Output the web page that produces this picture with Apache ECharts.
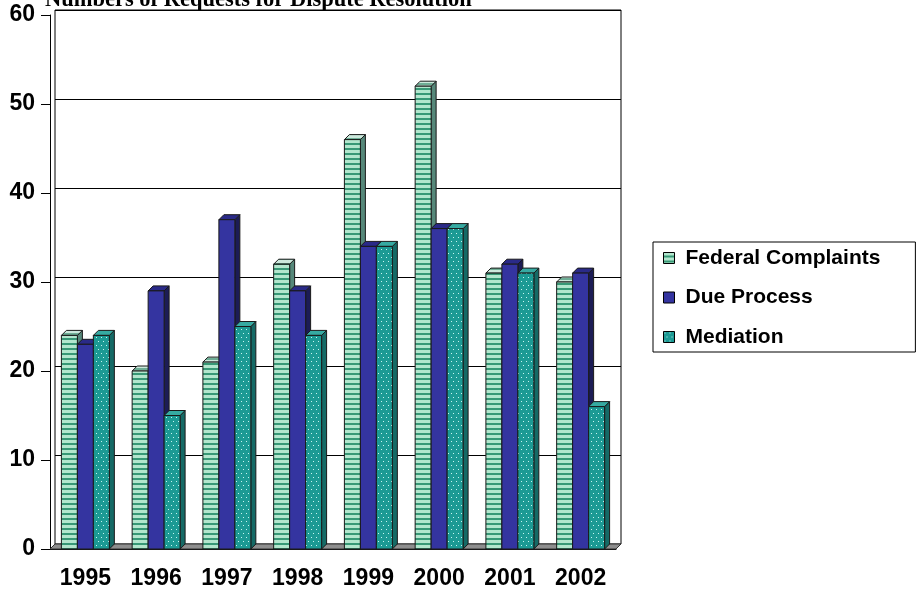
<!DOCTYPE html>
<html>
<head>
<meta charset="utf-8">
<script src="https://cdn.jsdelivr.net/npm/echarts@6/dist/echarts.min.js"></script>
<style>
  html, body { margin: 0; padding: 0; background: #fff; }
  #chart { width: 917px; height: 590px; }
</style>
</head>
<body>
<div id="chart"></div>
<script>
// Yearly counts of requests, by type
const years = ['1995', '1996', '1997', '1998', '1999', '2000', '2001', '2002'];
const federalComplaints = [24, 20, 21, 32, 46, 52, 31, 30];
const dueProcess = [23, 29, 37, 29, 34, 36, 32, 31];
const mediation = [24, 15, 25, 24, 34, 36, 31, 16];
const seriesNames = ['Federal Complaints', 'Due Process', 'Mediation'];
const yMin = 0, yMax = 60, yStep = 10;

const DEPTH = 5;          // 3D offset of the bars and back wall, px
const EDGE = '#1a1a1a';

// Small repeating fills for the bar faces
function stripes(light, dark) {
  const c = document.createElement('canvas');
  c.width = 4; c.height = 5;
  const g = c.getContext('2d');
  g.fillStyle = light; g.fillRect(0, 0, 4, 3);
  g.fillStyle = dark; g.fillRect(0, 3, 4, 2);
  return { image: c, repeat: 'repeat' };
}
function dots(base, dot) {
  const c = document.createElement('canvas');
  c.width = 5; c.height = 8;
  const g = c.getContext('2d');
  g.fillStyle = base; g.fillRect(0, 0, 5, 8);
  g.fillStyle = dot;
  g.fillRect(1, 1, 1, 1);
  g.fillRect(3, 5, 1, 1);
  return { image: c, repeat: 'repeat' };
}

const faces = [
  { front: stripes('#b2e6cd', '#389876'), top: stripes('#cce8dc', '#6fae96'), side: '#56887a' },
  { front: '#3434a0', top: '#2a2a88', side: '#1c1c55' },
  { front: dots('#1c9a94', '#c8f4f0'), top: '#36aaa2', side: '#156a66' }
];

function barRenderer(slot) {
  const f = faces[slot];
  return function (params, api) {
    const cat = api.value(0);
    const base = api.coord([cat, 0]);
    const top = api.coord([cat, api.value(1)]);
    const band = api.size([1, 0])[0];
    const bw = band * 0.226;
    const x = base[0] - 1.5 * bw + slot * bw;
    const yb = base[1], yt = top[1], d = DEPTH;
    return {
      type: 'group',
      children: [
        { type: 'polygon',
          shape: { points: [[x + bw, yt], [x + bw + d, yt - d], [x + bw + d, yb - d], [x + bw, yb]] },
          style: { fill: f.side, stroke: EDGE, lineWidth: 1 } },
        { type: 'polygon',
          shape: { points: [[x, yt], [x + d, yt - d], [x + bw + d, yt - d], [x + bw, yt]] },
          style: { fill: f.top, stroke: EDGE, lineWidth: 1 } },
        { type: 'rect',
          shape: { x: x, y: yt, width: bw, height: yb - yt },
          style: { fill: f.front, stroke: EDGE, lineWidth: 1 } }
      ]
    };
  };
}

// Floor slab under the bars
function floorRenderer(params, api) {
  const cs = params.coordSys;
  const yb = cs.y + cs.height, d = DEPTH;
  return {
    type: 'polygon',
    shape: { points: [[cs.x, yb], [cs.x + cs.width, yb], [cs.x + cs.width + d, yb - d], [cs.x + d, yb - d]] },
    style: { fill: '#8e8e8e', stroke: '#333', lineWidth: 1 }
  };
}

const toPairs = arr => arr.map((v, i) => [i, v]);
const seriesData = [federalComplaints, dueProcess, mediation];

const axisFont = { fontFamily: 'Arial, "Liberation Sans", sans-serif', fontWeight: 'bold', fontSize: 23, color: '#000' };

const chart = echarts.init(document.getElementById('chart'), null, { renderer: 'canvas' });
chart.setOption({
  animation: false,
  backgroundColor: '#fff',
  title: {
    text: 'Numbers of Requests for Dispute Resolution',
    left: 45, top: -11, padding: 0,
    textStyle: { fontFamily: '"Times New Roman", "Liberation Serif", serif', fontWeight: 'bold', fontSize: 22.5, lineHeight: 22, color: '#000' }
  },
  legend: {
    data: seriesNames,
    orient: 'vertical',
    left: 653, top: 242,
    padding: [5, 35, 4, 10],
    itemGap: 17.5,
    itemWidth: 11, itemHeight: 11,
    icon: 'rect',
    borderColor: '#000', borderWidth: 1,
    itemStyle: { borderColor: '#000', borderWidth: 1 },
    textStyle: { fontFamily: 'Arial, "Liberation Sans", sans-serif', fontWeight: 'bold', fontSize: 21, lineHeight: 22, color: '#000', padding: [0, 0, 0, 6] }
  },
  grid: [
    { left: 50, right: 301, top: 15, bottom: 41 },
    { left: 50 + DEPTH, right: 301 - DEPTH, top: 15 - DEPTH, bottom: 41 + DEPTH,
      show: true, borderColor: '#000', borderWidth: 1, backgroundColor: 'transparent' }
  ],
  xAxis: [
    { type: 'category', gridIndex: 0, data: years,
      axisLine: { lineStyle: { color: '#000', width: 1 } },
      axisTick: { length: 7, lineStyle: { color: '#000' } },
      axisLabel: Object.assign({ margin: 18 }, axisFont) },
    { type: 'category', gridIndex: 1, data: years, show: false }
  ],
  yAxis: [
    { type: 'value', gridIndex: 0, min: yMin, max: yMax, interval: yStep,
      axisLine: { show: true, lineStyle: { color: '#000', width: 1 } },
      axisTick: { show: true, length: 9, lineStyle: { color: '#000' } },
      axisLabel: Object.assign({ margin: 15 }, axisFont),
      splitLine: { show: false } },
    { type: 'value', gridIndex: 1, min: yMin, max: yMax, interval: yStep,
      axisLine: { show: false }, axisTick: { show: false }, axisLabel: { show: false },
      splitLine: { show: true, lineStyle: { color: '#000', width: 1 } } }
  ],
  series: [
    { type: 'custom', name: 'floor', xAxisIndex: 0, yAxisIndex: 0, silent: true,
      data: [[0, 0]], renderItem: floorRenderer, z: 1 }
  ].concat(seriesNames.map((name, k) => ({
    type: 'custom', name: name, xAxisIndex: 0, yAxisIndex: 0,
    data: toPairs(seriesData[k]),
    renderItem: barRenderer(k),
    itemStyle: { color: faces[k].front, borderColor: '#000', borderWidth: 1 },
    encode: { x: 0, y: 1 },
    z: 2 + k
  })))
});
</script>
</body>
</html>
